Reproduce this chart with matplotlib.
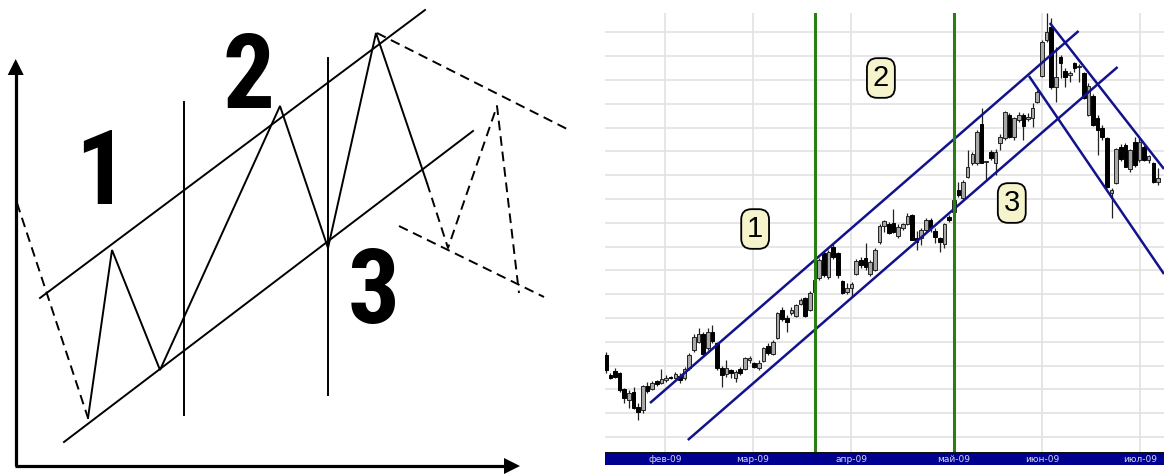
import numpy as np
import matplotlib
matplotlib.use("Agg")
import matplotlib.pyplot as plt
from matplotlib import font_manager


# candles (trading-day index, arbitrary price units)
opens = [97, 77, 81, 79, 63, 52, 60, 45, 42, 66, 63, 71, 69, 72, 75, 74, 76, 74, 84, 102,
         110, 118, 104, 120, 109, 84, 78, 82, 74, 83, 83, 92, 89, 84, 91, 106, 98, 114, 142, 134,
         139, 136, 148, 154, 142, 160, 174, 199, 175, 205, 199, 171, 160, 164, 178, 192, 194, 178, 182, 210,
         226, 228, 229, 216, 224, 228, 237, 214, 214, 222, 232, 221, 214, 208, 235, 240, 262, 254, 275, 289,
         289, 328, 290, 300, 289, 309, 314, 337, 315, 332, 337, 333, 334, 350, 376, 412, 425, 365, 395, 381,
         377, 389, 385, 379, 337, 356, 334, 324, 314, 259, 269, 305, 307, 283, 310, 292, 305, 292, 289, 270]
highs = [100, 79, 84, 80, 64, 62, 65, 49, 67, 70, 71, 72, 83, 77, 76, 80, 79, 85, 99, 118,
         124, 120, 124, 127, 110, 86, 92, 83, 82, 85, 95, 96, 90, 92, 105, 109, 112, 140, 145, 137,
         145, 148, 154, 155, 161, 174, 194, 201, 202, 208, 200, 172, 169, 170, 193, 195, 209, 192, 204, 228,
         232, 230, 243, 228, 229, 239, 238, 221, 224, 234, 234, 224, 215, 229, 237, 254, 270, 272, 302, 300,
         322, 344, 291, 302, 303, 318, 341, 339, 335, 340, 339, 339, 349, 362, 412, 439, 434, 405, 397, 384,
         381, 390, 388, 380, 369, 358, 337, 327, 315, 264, 304, 308, 309, 303, 315, 314, 307, 297, 290, 284]
lows = [79, 73, 74, 60, 49, 44, 43, 32, 39, 59, 62, 66, 68, 70, 73, 73, 69, 72, 82, 100,
        109, 97, 102, 109, 82, 65, 75, 74, 70, 77, 82, 89, 84, 82, 90, 97, 97, 113, 131, 120,
        137, 135, 147, 135, 141, 158, 172, 175, 173, 193, 174, 158, 158, 155, 177, 184, 182, 176, 181, 208,
        220, 218, 219, 214, 222, 227, 212, 202, 207, 220, 220, 209, 200, 204, 230, 238, 255, 252, 274, 287,
        287, 289, 272, 292, 277, 302, 312, 314, 312, 330, 312, 331, 325, 349, 375, 410, 363, 350, 374, 365,
        370, 380, 370, 353, 336, 326, 297, 312, 264, 234, 268, 291, 285, 280, 285, 290, 291, 289, 269, 267]
closes = [82, 74, 75, 62, 54, 59, 44, 40, 66, 61, 69, 68, 73, 74, 74, 78, 72, 83, 97, 115,
          118, 98, 120, 111, 84, 77, 84, 79, 80, 79, 94, 94, 85, 89, 104, 99, 110, 139, 133, 130,
          142, 147, 152, 136, 159, 172, 192, 177, 200, 195, 177, 159, 164, 168, 191, 187, 185, 190, 202, 226,
          231, 219, 220, 225, 228, 236, 212, 210, 222, 232, 224, 215, 210, 228, 232, 252, 257, 270, 285, 298,
          320, 289, 291, 294, 300, 315, 340, 315, 334, 337, 326, 335, 344, 360, 410, 420, 365, 375, 389, 375,
          379, 384, 386, 354, 366, 327, 322, 315, 265, 262, 303, 293, 285, 302, 287, 310, 292, 296, 270, 274]

month_pos = [12.8, 31.7, 52.9, 75.0, 94.0, 115.1]
month_labels = ["фев-09", "мар-09", "апр-09", "май-09", "июн-09", "июл-09"]

# channel lines drawn on the candle chart: (index, price) endpoints
up_channel_top = ([9.55, 101.9], [49, 421])
up_channel_bot = ([17.7, 110.3], [12, 385])
down_channel_top = ([95.7, 120.3], [429, 283])
down_channel_bot = ([91.2, 120.3], [376, 178])
phase_bounds = [45, 75]
phase_labels = ["1", "2", "3"]
phase_label_pos = ([32.2, 59.3, 87.5], [223, 374, 249])

# schematic on the left (drawing units = pixels, y down)
zigzag = ([88, 112, 160, 280, 328, 376, 427], [418, 250, 370, 106, 248, 33, 183])
lead_in = ([17, 88], [203, 418])
forecast = ([427, 448, 497, 519], [183, 248, 106, 293])
sch_top = ([40, 425], [298, 10])
sch_bot = ([64, 473], [442, 131])
fc_top = ([377, 569], [33, 130])
fc_bot = ([399, 544], [226, 297])
sch_splits = [(184.3, 102, 415), (328.3, 58, 395)]
sch_numbers = ["1", "2", "3"]
sch_num_pos = ([101.5, 249, 374], [204, 108, 323])
axis_origin = (15.7, 466)
axis_y_tip = (15.7, 59)
axis_x_tip = (520, 466)


def pick_family(names):
    for n in names:
        try:
            font_manager.findfont(font_manager.FontProperties(family=n), fallback_to_default=False)
            return n
        except ValueError:
            continue
    return None


narrow = pick_family(["Liberation Sans Narrow", "DejaVu Sans Condensed", "Roboto Condensed",
                      "Open Sans Condensed", "Noto Sans Condensed"])
if narrow is None:
    narrow = "Liberation Sans"

W, H = 1164, 474
fig = plt.figure(figsize=(W / 100, H / 100), dpi=100)

# left: schematic
axl = fig.add_axes([0, 0, 582 / W, 1])
axl.set_xlim(0, 582)
axl.set_ylim(H, 0)
axl.axis("off")

lw = 1.4
dash = (0, (5, 3))
axl.plot(*zigzag, color="k", lw=lw, solid_joinstyle="miter")
axl.plot(*lead_in, color="k", lw=lw, ls=dash)
axl.plot(*forecast, color="k", lw=lw, ls=dash)
axl.plot(*sch_top, color="k", lw=lw)
axl.plot(*sch_bot, color="k", lw=lw)
axl.plot(*fc_top, color="k", lw=lw, ls=dash)
axl.plot(*fc_bot, color="k", lw=lw, ls=dash)
for x, y0, y1 in sch_splits:
    axl.plot([x, x], [y0, y1], color="k", lw=lw)

# axes arrows
ox, oy = axis_origin
axl.plot([ox, axis_y_tip[0]], [oy, axis_y_tip[1] + 14], color="k", lw=2.3, solid_capstyle="butt")
axl.plot([ox - 1, axis_x_tip[0] - 14], [oy, axis_x_tip[1]], color="k", lw=2.3, solid_capstyle="butt")
hx, hy = axis_y_tip
axl.fill([hx, hx - 8, hx + 8], [hy, hy + 16, hy + 16], color="k", lw=0)
hx, hy = axis_x_tip
axl.fill([hx, hx - 16, hx - 16], [hy, hy - 8, hy + 8], color="k", lw=0)

for s, x, y in zip(sch_numbers, *sch_num_pos):
    axl.text(x, y, s, ha="center", va="baseline", fontsize=74, fontweight="bold",
             family=[narrow, "DejaVu Sans"])

# right: candle chart
ax = fig.add_axes([605 / W, (H - 452) / H, (W - 605) / W, (452 - 13) / H])
ax.set_xlim(-0.15, 120.3)
ax.set_ylim(0, 439)
for sp in ax.spines.values():
    sp.set_visible(False)
ax.set_xticks([])
ax.set_yticks([])

for gy in np.arange(15, 430, 23.8):
    ax.axhline(gy, color="#e2e2e2", lw=1.2, zorder=0)
for gx in month_pos:
    ax.axvline(gx, color="#e2e2e2", lw=1.2, zorder=0)

o = np.array(opens, dtype=float)
hi = np.array(highs, dtype=float)
lo = np.array(lows, dtype=float)
c = np.array(closes, dtype=float)
idx = np.arange(len(o))
up = c >= o

ax.vlines(idx, lo, hi, color="#222222", lw=0.9, zorder=2)
body_bot = np.minimum(o, c)
body_h = np.maximum(np.abs(c - o), 1.0)
ax.bar(idx[up], body_h[up], bottom=body_bot[up], width=0.78, color="#a8a8a8",
       edgecolor="#222222", linewidth=0.7, zorder=3)
ax.bar(idx[~up], body_h[~up], bottom=body_bot[~up], width=0.78, color="#000000",
       edgecolor="#000000", linewidth=0.7, zorder=3)

navy = "#12128c"
for line in (up_channel_top, up_channel_bot, down_channel_top, down_channel_bot):
    ax.plot(*line, color=navy, lw=1.8, zorder=4, solid_capstyle="butt")
for gx in phase_bounds:
    ax.axvline(gx, color="#2c7d16", lw=2.2, zorder=5)

for s, x, y in zip(phase_labels, *phase_label_pos):
    ax.text(x, y, s, ha="center", va="center", fontsize=21, family="Liberation Sans",
            zorder=6, bbox=dict(boxstyle="round,pad=0.2,rounding_size=0.35",
                                fc="#f6f4cc", ec="k", lw=1.3))

# bottom date bar
axb = fig.add_axes([605 / W, (H - 465) / H, (W - 605) / W, 13 / H])
axb.set_xlim(-0.15, 120.3)
axb.set_ylim(0, 1)
axb.set_facecolor("#000090")
axb.set_xticks([])
axb.set_yticks([])
for sp in axb.spines.values():
    sp.set_visible(False)
axb.axhline(1, color="#101010", lw=1.5)
for x, s in zip(month_pos, month_labels):
    axb.text(x, 0.42, s, ha="center", va="center", fontsize=6.5,
             color="#d8d8ea")

fig.savefig("out.png", dpi=100)
